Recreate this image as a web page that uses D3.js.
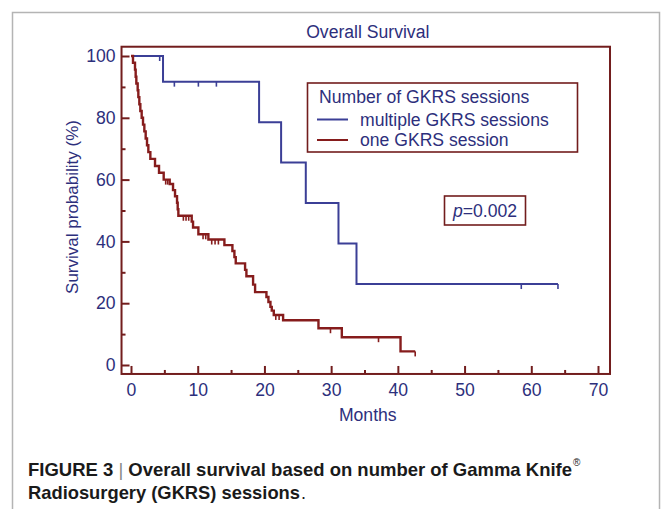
<!DOCTYPE html>
<html>
<head>
<meta charset="utf-8">
<script src="https://cdn.jsdelivr.net/npm/d3@7"></script>
<style>
  body { margin: 0; background: #fff; }
  svg text { font-family: "Liberation Sans", Arial, sans-serif; }
</style>
</head>
<body>
<div id="chart"></div>
<script>
// Kaplan-Meier steps (months, survival %)
var blueTimes  = [0, 4.8, 19.2, 22.5, 26.2, 31.1, 33.8, 64.0];
var blueSurv   = [100, 91.7, 78.6, 65.5, 52.4, 39.3, 26.2, 26.2];
var blueCensor = [4.3, 6.5, 10.1, 12.8, 58.5, 64.0];

var redTimes = [0, 0.3, 0.6, 0.7, 0.8, 1.0, 1.1, 1.25, 1.4, 1.6, 1.8, 2.0, 2.2, 2.4, 2.6, 2.9,
                3.6, 4.2, 4.9, 5.8, 6.3, 6.6, 6.9, 7.0, 7.1, 9.1, 9.3, 10.1, 11.6, 14.0,
                15.2, 15.5, 15.7, 17.1, 17.3, 18.3, 18.6, 20.3, 20.6, 20.9, 21.1, 21.4,
                22.8, 28.1, 31.6, 40.4, 42.6];
var redSurv  = [100, 97.8, 95.6, 93.3, 91.1, 88.9, 86.7, 84.4, 82.2, 80.0, 77.8, 75.6, 73.3, 71.1, 68.9, 66.7,
                64.4, 62.2, 60.0, 58.6, 56.6, 54.6, 52.5, 50.4, 48.3, 46.4, 44.5, 42.3, 40.6, 38.8,
                36.9, 34.9, 32.9, 30.8, 28.7, 26.0, 23.6, 22.0, 20.4, 18.8, 17.6, 16.2,
                14.5, 11.9, 9.0, 4.4, 4.4];
var redCensor = [5.2, 5.5, 7.85, 8.25, 8.65, 10.8, 11.2, 12.1, 12.6, 13.1, 21.7, 22.2, 29.9, 37.1, 42.6];

var xTicks = [0, 10, 20, 30, 40, 50, 60, 70];
var xMinor = [5, 15, 25, 35, 45, 55, 65];
var yTicks = [0, 20, 40, 60, 80, 100];
var yMinor = [10, 30, 50, 70, 90];

var legendTitle = "Number of GKRS sessions";
var seriesNames = ["multiple GKRS sessions", "one GKRS session"];
var pText = "=0.002";

var blue = "#3b3f96", red = "#861c1c", frameCol = "#721d1d", txt = "#2d2f7c";

var svg = d3.select("#chart").append("svg")
    .attr("width", 665)
    .attr("height", 509);

// outer figure border
svg.append("rect")
    .attr("x", 12.5).attr("y", 12.5)
    .attr("width", 647).attr("height", 530)
    .attr("fill", "none")
    .attr("stroke", "#b4b4b4")
    .attr("stroke-width", 1.5);

var x = d3.scaleLinear().domain([0, 70]).range([131, 598]);
var y = d3.scaleLinear().domain([0, 100]).range([365, 56]);

// plot frame limits (data units)
var x0 = -1.42, x1 = 71.8, y0 = -2.9, y1 = 103;

// title
svg.append("text")
    .attr("x", (x(x0) + x(x1)) / 2 + 2)
    .attr("y", 38)
    .attr("text-anchor", "middle")
    .attr("fill", txt)
    .style("font-size", "17.6px")
    .text("Overall Survival");

// axes (ticks point inward)
var xAxis = d3.axisBottom(x).tickValues(xTicks).tickSize(-8).tickPadding(10);
var xAxisMinor = d3.axisBottom(x).tickValues(xMinor).tickSize(-4).tickFormat("");
var yAxis = d3.axisLeft(y).tickValues(yTicks).tickSize(-8).tickPadding(6);
var yAxisMinor = d3.axisLeft(y).tickValues(yMinor).tickSize(-4).tickFormat("");

function styleAxis(g) {
    g.select(".domain").remove();
    g.selectAll("line").attr("stroke", frameCol).attr("stroke-width", 2);
    g.selectAll("text").attr("fill", txt).style("font-size", "17.6px")
        .style("font-family", "Liberation Sans, Arial, sans-serif");
}

svg.append("g").attr("transform", "translate(0," + y(y0) + ")").call(xAxis).call(styleAxis);
svg.append("g").attr("transform", "translate(0," + y(y0) + ")").call(xAxisMinor).call(styleAxis);
svg.append("g").attr("transform", "translate(" + x(x0) + ",0)").call(yAxis).call(styleAxis);
svg.append("g").attr("transform", "translate(" + x(x0) + ",0)").call(yAxisMinor).call(styleAxis);

// frame
svg.append("rect")
    .attr("x", x(x0)).attr("y", y(y1))
    .attr("width", x(x1) - x(x0))
    .attr("height", y(y0) - y(y1))
    .attr("fill", "none")
    .attr("stroke", frameCol)
    .attr("stroke-width", 2);

// axis titles
svg.append("text")
    .attr("x", (x(x0) + x(x1)) / 2 + 2)
    .attr("y", 421)
    .attr("text-anchor", "middle")
    .attr("fill", txt)
    .style("font-size", "17.6px")
    .text("Months");

svg.append("text")
    .attr("transform", "translate(78,207) rotate(-90)")
    .attr("text-anchor", "middle")
    .attr("fill", txt)
    .style("font-size", "17px")
    .text("Survival probability (%)");

// survival curves
var line = d3.line()
    .x(function(d) { return x(d[0]); })
    .y(function(d) { return y(d[1]); })
    .curve(d3.curveStepAfter);

function survAt(times, surv, t) {
    var s = surv[0];
    for (var i = 0; i < times.length; i++) { if (times[i] <= t) s = surv[i]; }
    return s;
}

function drawCurve(times, surv, censor, colr, w) {
    var pts = times.map(function(t, i) { return [t, surv[i]]; });
    svg.append("path")
        .attr("d", line(pts))
        .attr("fill", "none")
        .attr("stroke", colr)
        .attr("stroke-width", w);
    svg.append("g").selectAll("line")
        .data(censor)
        .enter().append("line")
        .attr("x1", function(d) { return x(d); })
        .attr("x2", function(d) { return x(d); })
        .attr("y1", function(d) { return y(survAt(times, surv, d)); })
        .attr("y2", function(d) { return y(survAt(times, surv, d)) + 5; })
        .attr("stroke", colr)
        .attr("stroke-width", 1.6);
}

drawCurve(blueTimes, blueSurv, blueCensor, blue, 2);
drawCurve(redTimes, redSurv, redCensor, red, 2.4);

// legend
svg.append("rect")
    .attr("x", 307.5).attr("y", 83)
    .attr("width", 270).attr("height", 69)
    .attr("fill", "#fff")
    .attr("stroke", frameCol)
    .attr("stroke-width", 1.6);

svg.append("text")
    .attr("x", 319).attr("y", 103)
    .attr("fill", txt)
    .style("font-size", "17.6px")
    .text(legendTitle);

[blue, red].forEach(function(c, i) {
    var ly = 119.5 + i * 20.5;
    svg.append("line")
        .attr("x1", 317).attr("x2", 348)
        .attr("y1", ly).attr("y2", ly)
        .attr("stroke", c)
        .attr("stroke-width", 2);
    svg.append("text")
        .attr("x", 360).attr("y", ly + 6)
        .attr("fill", txt)
        .style("font-size", "17.6px")
        .text(seriesNames[i]);
});

// p value box
svg.append("rect")
    .attr("x", 444.5).attr("y", 196)
    .attr("width", 81).attr("height", 29)
    .attr("fill", "#fff")
    .attr("stroke", frameCol)
    .attr("stroke-width", 1.6);

var pt = svg.append("text")
    .attr("x", 453).attr("y", 216.5)
    .attr("fill", txt)
    .style("font-size", "17.6px");
pt.append("tspan").style("font-style", "italic").text("p");
pt.append("tspan").text(pText);

// caption
var cap1 = svg.append("text")
    .attr("x", 28).attr("y", 476)
    .attr("fill", "#1a1a1a")
    .attr("textLength", 544)
    .attr("lengthAdjust", "spacingAndGlyphs")
    .style("font-size", "18.5px")
    .style("font-weight", "bold");
cap1.append("tspan").text("FIGURE 3 ");
cap1.append("tspan").attr("fill", "#888").style("font-weight", "normal").text("|");
cap1.append("tspan").text(" Overall survival based on number of Gamma Knife");

svg.append("text")
    .attr("x", 573).attr("y", 466)
    .attr("fill", "#1a1a1a")
    .style("font-size", "10px")
    .text("\u00ae");

svg.append("text")
    .attr("x", 28).attr("y", 499)
    .attr("fill", "#1a1a1a")
    .attr("textLength", 272)
    .attr("lengthAdjust", "spacingAndGlyphs")
    .style("font-size", "18.5px")
    .style("font-weight", "bold")
    .text("Radiosurgery (GKRS) sessions");

svg.append("text")
    .attr("x", 301).attr("y", 499)
    .attr("fill", "#1a1a1a")
    .style("font-size", "18px")
    .text(".");
</script>
</body>
</html>
